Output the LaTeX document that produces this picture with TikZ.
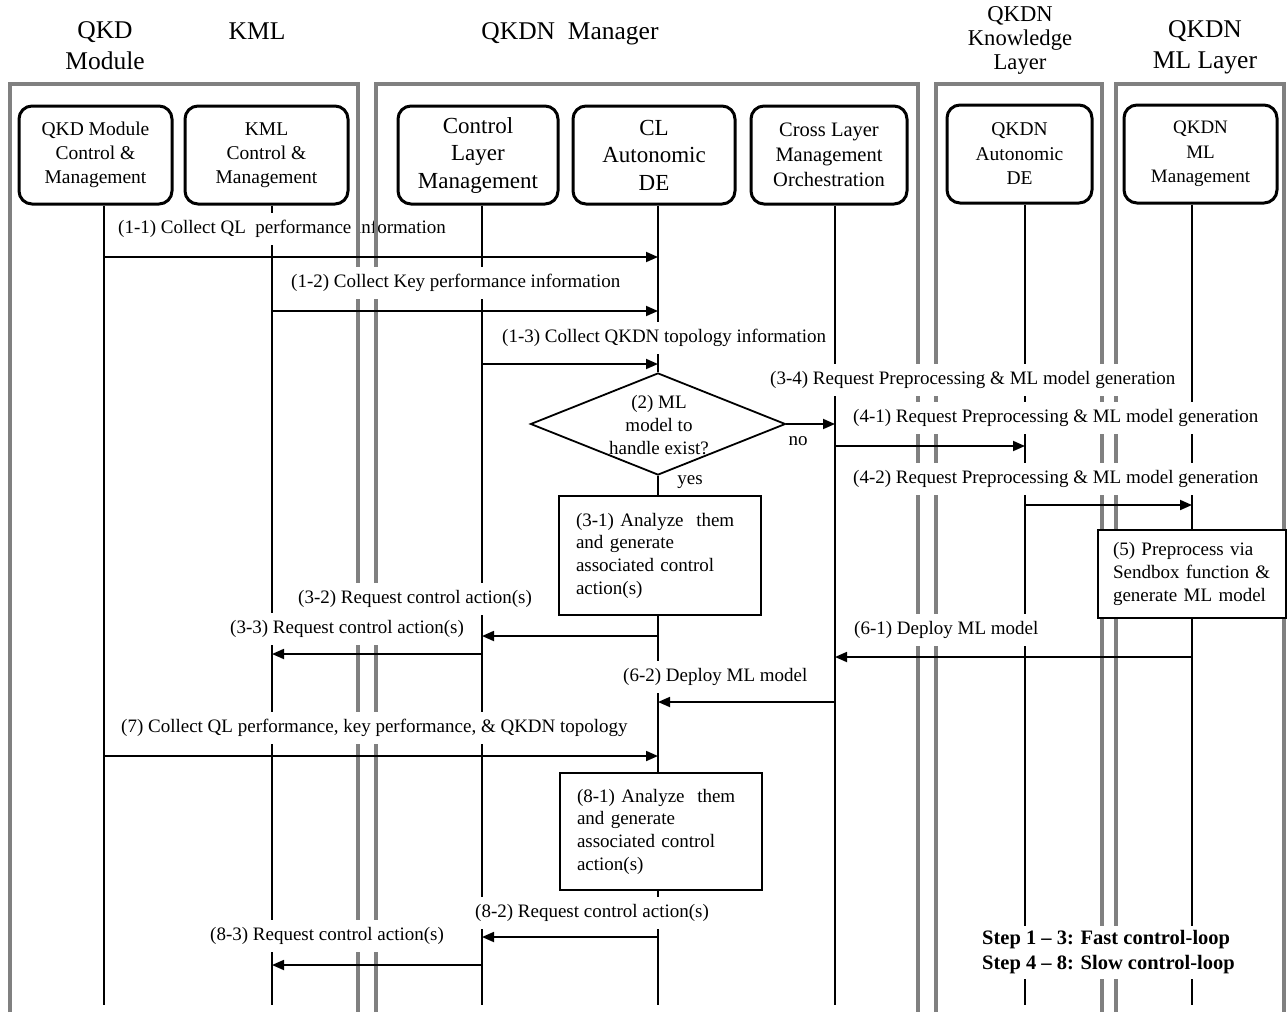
\documentclass[tikz,border=0pt]{standalone}
\usepackage{fontspec}
\setmainfont{Liberation Serif}
\usetikzlibrary{arrows.meta,shapes.geometric}

\definecolor{groupgray}{RGB}{128,128,128}
\newcommand\setfs[2]{\fontsize{#1}{#2}\selectfont}

% drawing order: lifelines, first label, group frames, everything else
\pgfdeclarelayer{lifelines}
\pgfdeclarelayer{firstlabel}
\pgfdeclarelayer{groups}
\pgfsetlayers{lifelines,firstlabel,groups,main}

\begin{document}
\begin{tikzpicture}[x=1pt,y=-1pt,
  group/.style={draw=groupgray,line width=3.5pt},
  hdr/.style={align=center,inner sep=0pt},
  actor/.style={draw,line width=3pt,rounded corners=13pt,fill=white,align=center,
                inner sep=0pt,minimum height=98pt},
  life/.style={line width=1.5pt},
  msg/.style={line width=1.8pt,-{Triangle[length=12pt,width=10pt]}},
  lbl/.style={fill=white,anchor=west,inner xsep=4pt,inner ysep=7pt,font=\setfs{19}{23}},
  note/.style={draw,line width=1.6pt,fill=white,align=left,inner xsep=17pt,
               inner ysep=0pt,font=\setfs{19}{22.7}},
  tag/.style={inner sep=1pt,font=\setfs{19}{23}}
]
\useasboundingbox (0,0) rectangle (1287,1012);

% lower ends of the lifelines
\coordinate (Lq) at (104,1005);
\coordinate (Lk) at (272,1005);
\coordinate (Lc) at (482,1005);
\coordinate (La) at (658,1005);
\coordinate (Lx) at (835,1005);
\coordinate (Ld) at (1025,1005);
\coordinate (Lm) at (1192,1005);

% group titles
\node[hdr,font=\setfs{25.5}{31}] (hqkd) at (105,45.5) {QKD\\Module};
\node[hdr,font=\setfs{25.5}{31},anchor=base] (hkml) at (257,39) {KML};
\node[hdr,font=\setfs{25.5}{31},anchor=base] (hmgr) at (570,39) {QKDN\ \ Manager};
\node[hdr,font=\setfs{22.6}{24}] (hknw) at (1020,40.5) {QKDN\\Knowledge\\Layer};
\node[hdr,font=\setfs{25.5}{31}] (hml) at (1205,47) {QKDN\\ML Layer};

% participants
\node[actor,minimum width=153pt,font=\setfs{19.5}{24}] (qkdbox) at (95.5,155)
  {QKD Module\\Control \&\\Management};
\node[actor,minimum width=163pt,font=\setfs{19.5}{24}] (kmlbox) at (266.5,155)
  {KML\\Control \&\\Management};
\node[actor,minimum width=160pt,font=\setfs{23}{27.5}] (clmbox) at (478,155)
  {Control\\Layer\\Management};
\node[actor,minimum width=162pt,font=\setfs{23}{27.5}] (cladbox) at (654,155)
  {CL\\Autonomic\\DE};
\node[actor,minimum width=156pt,font=\setfs{20.5}{25}] (clmobox) at (829,155)
  {Cross Layer\\Management\\Orchestration};
\node[actor,minimum width=145pt,font=\setfs{19.5}{24.5}] (kdbox) at (1019.5,154)
  {QKDN\\Autonomic\\DE};
\node[actor,minimum width=153pt,font=\setfs{19}{24.5}] (mlbox) at (1200.5,154)
  {QKDN\\ML\\Management};

% decision
\node[diamond,draw,line width=1.8pt,minimum width=255pt,minimum height=102pt,
      inner sep=0pt] (dec) at (658,424) {};
\node[hdr,font=\setfs{19}{23}] (dectext) at (659,425) {(2) ML\\model to\\handle exist?};
\node[tag] (no) at (798,441) {no};
\node[tag] (yes) at (690,482) {yes};

% processing steps
\node[note,text width=168pt,minimum height=119pt] (box31) at (660,555.5)
  {(3-1) Analyze\ \ them\\and generate\\associated control\\action(s)};
\node[note,text width=168pt,minimum height=117pt] (box81) at (661,831.5)
  {(8-1) Analyze\ \ them\\and generate\\associated control\\action(s)};
\node[note,inner xsep=15pt,text width=158pt,minimum height=88pt] (box5) at (1192,574)
  {(5) Preprocess via\\Sendbox function \&\\generate ML model};

% lifelines
\begin{pgfonlayer}{lifelines}
\draw[life] (qkdbox.south -| Lq) -- (Lq);
\draw[life] (kmlbox.south -| Lk) -- (Lk);
\draw[life] (clmbox.south -| Lc) -- (Lc);
\draw[life] (cladbox.south -| La) -- (dec.north);
\draw[life] (dec.south) -- (dec.south |- box31.north);
\draw[life] (box31.south -| La) -- (box81.north -| La);
\draw[life] (box81.south -| La) -- (La);
\draw[life] (clmobox.south -| Lx) -- (Lx);
\draw[life] (kdbox.south -| Ld) -- (Ld);
\draw[life] (mlbox.south -| Lm) -- (box5.north -| Lm);
\draw[life] (box5.south -| Lm) -- (Lm);
\end{pgfonlayer}

\begin{pgfonlayer}{firstlabel}
\node[lbl] (m11) at (114,229) {(1-1) Collect QL\ \ performance information};
\end{pgfonlayer}

% group frames, open at the bottom
\begin{pgfonlayer}{groups}
\draw[group] (10,1012) -- (10,84) -- (358,84) -- (358,1012);
\draw[group] (376,1012) -- (376,84) -- (918,84) -- (918,1012);
\draw[group] (936,1012) -- (936,84) -- (1102,84) -- (1102,1012);
\draw[group] (1116,1012) -- (1116,84) -- (1284,84) -- (1284,1012);
\end{pgfonlayer}

% message labels
\node[lbl] (m12) at (287,283) {(1-2) Collect Key performance information};
\node[lbl] (m13) at (498,338) {(1-3) Collect QKDN topology information};
\node[lbl] (m34) at (766,380)
  {(3-4) Request Preprocessing \& ML model generation\hspace{22pt}};
\node[lbl] (m41) at (849,418) {(4-1) Request Preprocessing \& ML model generation};
\node[lbl] (m42) at (849,479) {(4-2) Request Preprocessing \& ML model generation};
\node[lbl] (m32) at (294,599) {(3-2) Request control action(s)};
\node[lbl] (m33) at (226,629) {(3-3) Request control action(s)};
\node[lbl] (m61) at (850,630) {(6-1) Deploy ML model};
\node[lbl] (m62) at (619,677) {(6-2) Deploy ML model};
\node[lbl] (m7) at (117,728) {(7) Collect QL performance, key performance, \& QKDN topology};
\node[lbl] (m82) at (471,913) {(8-2) Request control action(s)};
\node[lbl] (m83) at (206,936) {(8-3) Request control action(s)};

% messages
\draw[msg] (Lq |- 0,257) -- (La |- 0,257);
\draw[msg] (Lk |- 0,311) -- (La |- 0,311);
\draw[msg] (Lc |- 0,364) -- (La |- 0,364);
\draw[msg] (dec.east) -- (dec.east -| Lx);
\draw[msg] (Lx |- 0,446) -- (Ld |- 0,446);
\draw[msg] (Ld |- 0,505) -- (Lm |- 0,505);
\draw[msg] (La |- 0,636) -- (Lc |- 0,636);
\draw[msg] (Lc |- 0,654) -- (Lk |- 0,654);
\draw[msg] (Lm |- 0,657) -- (Lx |- 0,657);
\draw[msg] (Lx |- 0,702) -- (La |- 0,702);
\draw[msg] (Lq |- 0,756) -- (La |- 0,756);
\draw[msg] (La |- 0,937) -- (Lc |- 0,937);
\draw[msg] (Lc |- 0,965) -- (Lk |- 0,965);

% legend
\node[fill=white,anchor=west,align=left,inner xsep=4pt,inner ysep=5pt,
      font=\bfseries\setfs{20.5}{25}] (steps) at (978,952.5)
  {Step 1 \textendash{} 3: Fast control-loop\\Step 4 \textendash{} 8: Slow control-loop};
\end{tikzpicture}
\end{document}
